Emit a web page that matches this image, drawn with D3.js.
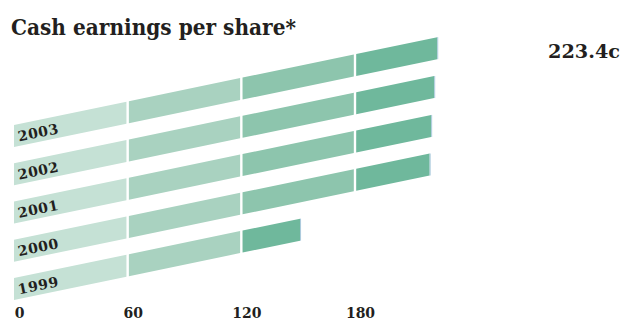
<!DOCTYPE html>
<meta charset="utf-8">
<style>
body { margin: 0; background: #fff; }
text { font-family: "DejaVu Serif", serif; font-weight: bold; fill: #231f20; }
</style>
<body>
<script src="https://cdn.jsdelivr.net/npm/d3@7"></script>
<script>
// data
var years = ["1999", "2000", "2001", "2002", "2003"];
var values = [151.0, 219.4, 220.2, 221.8, 223.4];
var ticks = [0, 60, 120, 180];
var segColors = ["#c5e1d5", "#a9d2c0", "#8dc5ad", "#6fb89c"];

var width = 624, height = 320;
var slope = 0.2075,   // bars lean upwards
    barH = 22;

var svg = d3.select("body").append("svg")
    .attr("width", width)
    .attr("height", height);

var x = d3.scaleLinear().domain([0, 180]).range([14, 355]);
var y = d3.scalePoint().domain(years).range([300, 147]);   // bottom-left of each bar

function lift(px) { return (px - x(0)) * slope; }

// build segments per bar
var segs = [];
years.forEach(function(yr, i) {
  var v = values[i];
  var bounds = [0, 60, 120, 180, Infinity];
  for (var k = 0; k < 4; k++) {
    var a = bounds[k], b = Math.min(bounds[k + 1], v);
    if (b <= a) break;
    var last = b === v;
    segs.push({year: yr, a: a, b: b, col: last ? segColors[3] : segColors[k], last: last});
  }
});

svg.selectAll(".seg")
    .data(segs)
  .enter().append("polygon")
    .attr("class", "seg")
    .attr("fill", function(d) { return d.col; })
    .attr("points", function(d) {
      var x0 = x(d.a) + (d.a > 0 ? 1.2 : 0),
          x1 = x(d.b) - (d.last ? 0 : 1.2),
          yb = y(d.year);
      return [[x0, yb - lift(x0)], [x1, yb - lift(x1)],
              [x1, yb - barH - lift(x1)], [x0, yb - barH - lift(x0)]].join(" ");
    });

// thin end caps
svg.selectAll(".cap")
    .data(segs.filter(function(d) { return d.last; }))
  .enter().append("line")
    .attr("class", "cap")
    .attr("stroke", "#a9c9dc")
    .attr("stroke-width", 1)
    .attr("x1", function(d) { return x(d.b) + 0.5; })
    .attr("x2", function(d) { return x(d.b) + 0.5; })
    .attr("y1", function(d) { return y(d.year) - lift(x(d.b)); })
    .attr("y2", function(d) { return y(d.year) - barH - lift(x(d.b)); });

// year labels, along the slope
var angle = -Math.atan(slope) * 180 / Math.PI;
svg.selectAll(".yr")
    .data(years)
  .enter().append("text")
    .attr("class", "yr")
    .attr("font-size", 14)
    .attr("letter-spacing", 0.6)
    .attr("transform", function(d) {
      var px = 19;
      return "translate(" + px + "," + (y(d) - 4.5 - lift(px)) + ") rotate(" + angle + ")";
    })
    .text(function(d) { return d; });

// axis
var axis = svg.append("g")
    .attr("transform", "translate(0,305)")
    .call(d3.axisBottom(x).tickValues(ticks).tickSize(0).tickPadding(0));
axis.select(".domain").remove();
axis.selectAll("text")
    .attr("dx", 5)
    .attr("dy", 13)
    .style("font-family", "DejaVu Serif, serif")
    .style("font-weight", "bold")
    .style("font-size", "14px")
    .attr("fill", "#231f20");

// title and value
svg.append("text")
    .attr("x", 11).attr("y", 35)
    .attr("font-size", 23)
    .attr("textLength", 285)
    .attr("lengthAdjust", "spacingAndGlyphs")
    .text("Cash earnings per share*");

svg.append("text")
    .attr("x", 620).attr("y", 58)
    .attr("text-anchor", "end")
    .attr("font-size", 19)
    .attr("textLength", 72)
    .attr("lengthAdjust", "spacingAndGlyphs")
    .text("223.4c");
</script>
</body>
